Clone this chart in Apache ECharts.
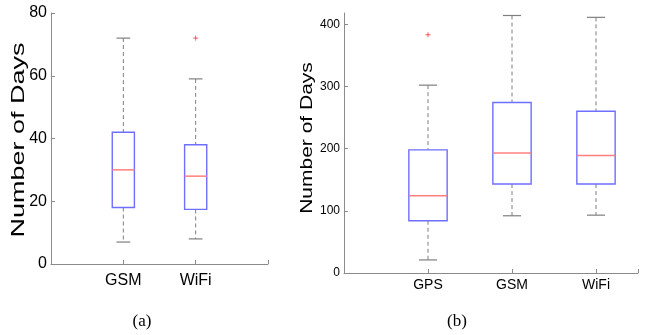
<!DOCTYPE html>
<html>
<head>
<meta charset="utf-8">
<script src="https://cdn.jsdelivr.net/npm/echarts@6/dist/echarts.min.js"></script>
<style>
html,body{margin:0;padding:0;background:#fff;}
#chart{width:646px;height:335px;}
</style>
</head>
<body>
<div id="chart"></div>
<script>
// ---- Data: panel (a) ----
const aCategories = ['GSM', 'WiFi'];
const aMin    = [7, 8];
const aQ1     = [18, 17.4];
const aMedian = [30, 28];
const aQ3     = [42, 38];
const aMax    = [72, 59];
const aOutlierCat = ['WiFi'];
const aOutlierVal = [72];
const aYTicks = [0, 20, 40, 60, 80];

// ---- Data: panel (b) ----
const bCategories = ['GPS', 'GSM', 'WiFi'];
const bMin    = [21, 92, 93];
const bQ1     = [84, 143, 143];
const bMedian = [124, 193, 189];
const bQ3     = [198, 274, 260];
const bMax    = [302, 414, 411];
const bOutlierCat = ['GPS'];
const bOutlierVal = [383];
const bYTicks = [0, 100, 200, 300, 400];

const yTitle = 'Number of Days';
const captions = ['(a)', '(b)'];

const LABEL_FONT = "'Liberation Sans Narrow', 'Liberation Sans', Arial, sans-serif";
const BOX_COLOR = '#6f6fff';
const MED_COLOR = '#ff7f7f';
const WHISK_COLOR = '#7f7f7f';
const AXIS_COLOR = '#8a8a8a';

function boxData(cats, mn, q1, md, q3, mx) {
  return cats.map((c, i) => [i + 1, mn[i], q1[i], md[i], q3[i], mx[i]]);
}
function outlierData(allCats, cats, vals) {
  return cats.map((c, i) => [allCats.indexOf(c) + 1, vals[i]]);
}

function makeRender(boxHalf, capHalf) {
  return function (params, api) {
    const x = api.value(0);
    const pMin = api.coord([x, api.value(1)]);
    const pQ1 = api.coord([x, api.value(2)]);
    const pMed = api.coord([x, api.value(3)]);
    const pQ3 = api.coord([x, api.value(4)]);
    const pMax = api.coord([x, api.value(5)]);
    const left = api.coord([x - boxHalf, 0])[0];
    const right = api.coord([x + boxHalf, 0])[0];
    const cl = api.coord([x - capHalf, 0])[0];
    const cr = api.coord([x + capHalf, 0])[0];
    const cx = pMin[0];
    const dash = {stroke: WHISK_COLOR, lineWidth: 1, lineDash: [4, 3]};
    const solidW = {stroke: WHISK_COLOR, lineWidth: 1.2};
    return {
      type: 'group',
      children: [
        {type: 'line', shape: {x1: cx, y1: pMax[1], x2: cx, y2: pQ3[1]}, style: dash},
        {type: 'line', shape: {x1: cx, y1: pQ1[1], x2: cx, y2: pMin[1]}, style: dash},
        {type: 'line', shape: {x1: cl, y1: pMax[1], x2: cr, y2: pMax[1]}, style: solidW},
        {type: 'line', shape: {x1: cl, y1: pMin[1], x2: cr, y2: pMin[1]}, style: solidW},
        {type: 'rect', shape: {x: left, y: pQ3[1], width: right - left, height: pQ1[1] - pQ3[1]},
          style: {fill: 'none', stroke: BOX_COLOR, lineWidth: 1.4}},
        {type: 'line', shape: {x1: left, y1: pMed[1], x2: right, y2: pMed[1]},
          style: {stroke: MED_COLOR, lineWidth: 1.5}}
      ]
    };
  };
}

function xAxisDef(gridIndex, cats, max, fontSize, margin) {
  return {
    type: 'value', gridIndex: gridIndex, min: 0, max: max, interval: 1,
    axisLine: {lineStyle: {color: AXIS_COLOR, width: 1}},
    axisTick: {inside: true, length: 4, lineStyle: {color: AXIS_COLOR}},
    splitLine: {show: false},
    axisLabel: {
      margin: margin, color: '#000', fontFamily: LABEL_FONT, fontSize: fontSize,
      showMinLabel: true, showMaxLabel: true,
      formatter: function (v) { return cats[Math.round(v) - 1] && Math.abs(v - Math.round(v)) < 1e-6 ? cats[Math.round(v) - 1] : ''; }
    }
  };
}
function yAxisDef(gridIndex, ticks, max, fontSize) {
  return {
    type: 'value', gridIndex: gridIndex, min: ticks[0], max: max,
    interval: ticks[1] - ticks[0],
    axisLine: {show: true, lineStyle: {color: AXIS_COLOR, width: 1}},
    axisTick: {show: true, inside: true, length: 4, lineStyle: {color: AXIS_COLOR}},
    splitLine: {show: false},
    axisLabel: {
      margin: 4, color: '#000', fontFamily: LABEL_FONT, fontSize: fontSize,
      showMaxLabel: max === ticks[ticks.length - 1],
      formatter: function (v) { return ticks.indexOf(v) >= 0 ? String(v) : ''; }
    }
  };
}

const chart = echarts.init(document.getElementById('chart'), null, {renderer: 'canvas'});
chart.setOption({
  animation: false,
  backgroundColor: '#fff',
  grid: [
    {left: 51, top: 13, width: 217, height: 251},
    {left: 344, top: 13, width: 294, height: 260}
  ],
  xAxis: [
    xAxisDef(0, aCategories, 3, 16, 9),
    xAxisDef(1, bCategories, 3.5, 14, 5)
  ],
  yAxis: [
    yAxisDef(0, aYTicks, 80, 16),
    yAxisDef(1, bYTicks, 418, 12)
  ],
  series: [
    {type: 'custom', xAxisIndex: 0, yAxisIndex: 0, renderItem: makeRender(0.153, 0.095),
      encode: {x: 0, y: [1, 2, 3, 4, 5]},
      data: boxData(aCategories, aMin, aQ1, aMedian, aQ3, aMax)},
    {type: 'scatter', xAxisIndex: 0, yAxisIndex: 0, symbol: 'path://M5,0 L5,10 M0,5 L10,5',
      symbolSize: 5, itemStyle: {color: 'none', borderColor: '#ff3030', borderWidth: 1},
      data: outlierData(aCategories, aOutlierCat, aOutlierVal)},
    {type: 'custom', xAxisIndex: 1, yAxisIndex: 1, renderItem: makeRender(0.228, 0.108),
      encode: {x: 0, y: [1, 2, 3, 4, 5]},
      data: boxData(bCategories, bMin, bQ1, bMedian, bQ3, bMax)},
    {type: 'scatter', xAxisIndex: 1, yAxisIndex: 1, symbol: 'path://M5,0 L5,10 M0,5 L10,5',
      symbolSize: 5, itemStyle: {color: 'none', borderColor: '#ff3030', borderWidth: 1},
      data: outlierData(bCategories, bOutlierCat, bOutlierVal)}
  ],
  graphic: [
    {type: 'text', x: 19, y: 140, rotation: Math.PI / 2, scaleY: 0.66,
      style: {text: yTitle, fontFamily: "'Liberation Sans', Arial, sans-serif", fontSize: 27,
        fill: '#000', align: 'center', verticalAlign: 'middle'}},
    {type: 'text', x: 307, y: 138, rotation: Math.PI / 2, scaleY: 0.78,
      style: {text: yTitle, fontFamily: "'Liberation Sans', Arial, sans-serif", fontSize: 21,
        fill: '#000', align: 'center', verticalAlign: 'middle'}},
    {type: 'text', x: 142, y: 322,
      style: {text: captions[0], fontFamily: "'Liberation Serif', 'Times New Roman', serif", fontSize: 17,
        fill: '#000', align: 'center', verticalAlign: 'middle'}},
    {type: 'text', x: 457, y: 322,
      style: {text: captions[1], fontFamily: "'Liberation Serif', 'Times New Roman', serif", fontSize: 17,
        fill: '#000', align: 'center', verticalAlign: 'middle'}}
  ]
});
</script>
</body>
</html>
